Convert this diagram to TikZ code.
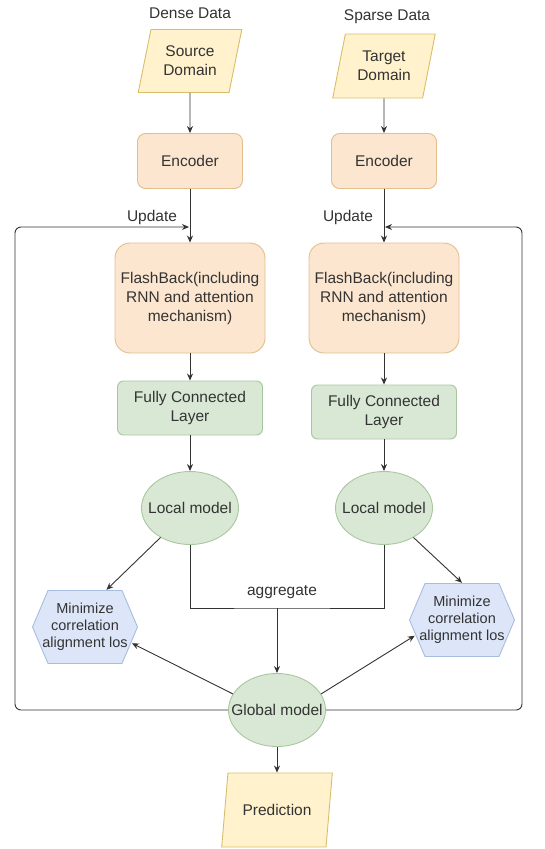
\documentclass[tikz,border=0pt]{standalone}
\usepackage{fontspec}
\setmainfont{Liberation Sans}
\usetikzlibrary{shapes.geometric,arrows.meta}

\definecolor{orangefill}{HTML}{FCE6CF}
\definecolor{orangeline}{HTML}{E2BF8C}
\definecolor{greenfill}{HTML}{D8E8D5}
\definecolor{greenline}{HTML}{A9C79E}
\definecolor{bluefill}{HTML}{DDE6F8}
\definecolor{blueline}{HTML}{A7BCE0}
\definecolor{yellowfill}{HTML}{FFF2CC}
\definecolor{yellowline}{HTML}{D9BE6A}
\definecolor{inkgray}{HTML}{333333}

\tikzset{
    txt/.style={font=\fontsize{15.5}{19}\selectfont, text=inkgray, align=center},
    databox/.style={txt, trapezium, trapezium left angle=75, trapezium right angle=105,
        trapezium stretches=true, draw=yellowline, fill=yellowfill, line width=0.9pt},
    encbox/.style={txt, rectangle, rounded corners=8pt, draw=orangeline, fill=orangefill,
        line width=0.9pt, minimum width=105pt, minimum height=55pt},
    flashbox/.style={txt, rectangle, rounded corners=15pt, draw=orangeline, fill=orangefill,
        line width=0.9pt, minimum width=150pt, minimum height=110pt},
    fcbox/.style={txt, rectangle, rounded corners=6pt, draw=greenline, fill=greenfill,
        line width=0.9pt, minimum width=145pt, minimum height=54pt},
    modelbox/.style={txt, ellipse, draw=greenline, fill=greenfill, line width=0.9pt,
        minimum width=97pt, minimum height=73pt, inner xsep=-12pt, inner ysep=8pt},
    lossbox/.style={txt, font=\fontsize{14.5}{17}\selectfont, rectangle,
        minimum width=106pt, minimum height=74pt, inner sep=0pt,
        path picture={
            \draw[fill=bluefill, draw=blueline, line width=0.9pt]
                ([xshift=0.5pt]path picture bounding box.west)
                -- ([xshift=16pt, yshift=-0.5pt]path picture bounding box.north west)
                -- ([xshift=-16pt, yshift=-0.5pt]path picture bounding box.north east)
                -- ([xshift=-0.5pt]path picture bounding box.east)
                -- ([xshift=-16pt, yshift=0.5pt]path picture bounding box.south east)
                -- ([xshift=16pt, yshift=0.5pt]path picture bounding box.south west)
                -- cycle;
        }},
    arr/.style={draw=inkgray, line width=0.9pt, -{Stealth[length=7pt,width=6pt]}},
    plain/.style={draw=inkgray, line width=0.9pt}
}

\begin{document}
\begin{tikzpicture}[x=1pt, y=-1pt]
    \useasboundingbox (0,0) rectangle (545,849);

    \node[txt] (dense) at (190,13) {Dense Data};
    \node[txt] (sparse) at (387,17) {Sparse Data};

    \node[databox, minimum width=104pt, minimum height=63pt] (src) at (190,61) {Source\\Domain};
    \node[databox, minimum width=103pt, minimum height=64pt] (tgt) at (384,66) {Target\\Domain};

    \node[encbox] (encL) at (190,161) {Encoder};
    \node[encbox] (encR) at (384,161) {Encoder};

    \node[flashbox] (flashL) at (190,298) {FlashBack(including\\RNN and attention\\mechanism)};
    \node[flashbox] (flashR) at (384,298) {FlashBack(including\\RNN and attention\\mechanism)};

    \node[fcbox] (fcL) at (190,408) {Fully Connected\\Layer};
    \node[fcbox] (fcR) at (384,412) {Fully Connected\\Layer};

    \node[modelbox] (locL) at (190,508) {Local model};
    \node[modelbox] (locR) at (384,508) {Local model};

    \node[lossbox] (lossL) at (85,627) {Minimize\\correlation\\alignment los};
    \node[lossbox] (lossR) at (462,620) {Minimize\\correlation\\alignment los};

    \node[modelbox] (glob) at (277,710) {Global model};

    \node[databox, minimum width=111pt, minimum height=74pt] (pred) at (277,810) {Prediction};

    \node[txt] (updL) at (152,217) {Update};
    \node[txt] (updR) at (348,217) {Update};
    \node[txt] (aggtxt) at (282,592) {aggregate};

    \coordinate (upL) at (189,227);
    \coordinate (upR) at (385,227);
    \coordinate (agg) at (277,608);

    % columns
    \draw[arr] (src) -- (encL);
    \draw[arr] (encL) -- (flashL);
    \draw[arr] (flashL) -- (fcL);
    \draw[arr] (fcL) -- (locL);
    \draw[arr] (tgt) -- (encR);
    \draw[arr] (encR) -- (flashR);
    \draw[arr] (flashR) -- (fcR);
    \draw[arr] (fcR) -- (locR);

    % aggregation
    \draw[plain] (locL.south) |- (agg) -| (locR.south);
    \draw[arr] (agg) -- (glob);
    \draw[arr] (glob) -- (pred);

    % losses
    \draw[arr] (locL.-135) -- (lossL.60);
    \draw[arr] (locR.-45) -- (lossR.north);
    \draw[arr, shorten >=-7pt] (glob.160) -- (lossL.-20);
    \draw[arr, shorten >=-7pt] (glob.20) -- (lossR.-160);

    % update loops
    \draw[arr, rounded corners=6pt] (glob.west) -- (15,710) -- (15,227) -- (upL);
    \draw[arr, rounded corners=6pt] (glob.east) -- (522,710) -- (522,227) -- (upR);
\end{tikzpicture}
\end{document}
